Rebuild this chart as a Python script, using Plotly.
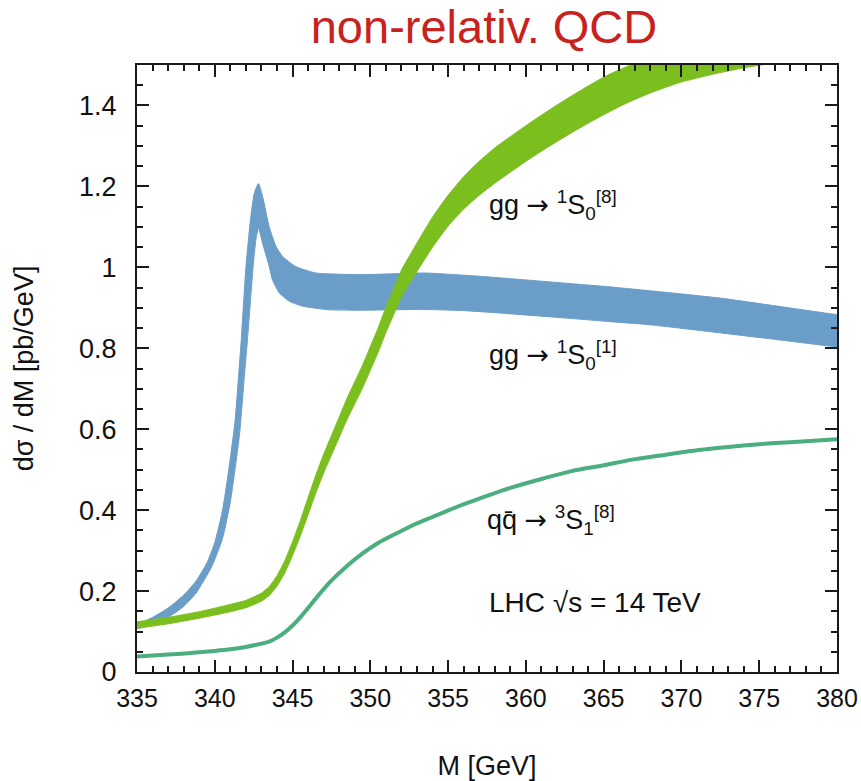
import plotly.graph_objects as go

# ---------------- data ----------------
x_ticks = [335, 340, 345, 350, 355, 360, 365, 370, 375, 380]
y_ticks = [0, 0.2, 0.4, 0.6, 0.8, 1.0, 1.2, 1.4]
y_tick_labels = ["0", "0.2", "0.4", "0.6", "0.8", "1", "1.2", "1.4"]

# gg -> 1S0[1]  (blue band)
blue_upper_M = [335.0, 335.2, 336.0, 337.0, 338.0, 338.8, 339.5, 340.0, 340.5, 340.9, 341.3,
                341.7, 342.0, 342.3, 342.55, 342.81, 343.07, 343.5, 343.93, 344.36, 345.2,
                346.5, 349.5, 353.5, 357.0, 362.8, 365.0, 368.0, 372.5, 376.0, 379.8, 380.0]
blue_upper_v = [0.120, 0.121, 0.135, 0.158, 0.190, 0.225, 0.270, 0.320, 0.400, 0.500, 0.620,
                0.820, 1.000, 1.120, 1.185, 1.207, 1.176, 1.100, 1.052, 1.027, 1.002,
                0.986, 0.982, 0.986, 0.978, 0.960, 0.953, 0.942, 0.924, 0.905, 0.884, 0.883]
blue_lower_M = [335.0, 335.2, 336.0, 337.0, 338.0, 338.8, 339.8, 340.5, 341.0, 341.3, 341.6,
                341.9, 342.1, 342.3, 342.46, 342.65, 342.81, 343.07, 343.5, 343.7, 344.14,
                344.8, 345.65, 347.4, 349.5, 353.2, 356.0, 358.0, 362.8, 365.0, 368.0,
                372.5, 376.0, 379.8, 380.0]
blue_lower_v = [0.108, 0.109, 0.118, 0.135, 0.162, 0.195, 0.260, 0.330, 0.420, 0.500, 0.590,
                0.730, 0.820, 0.920, 1.000, 1.070, 1.097, 1.060, 1.002, 0.970, 0.937,
                0.916, 0.904, 0.895, 0.894, 0.896, 0.893, 0.888, 0.874, 0.867, 0.858,
                0.838, 0.822, 0.804, 0.803]

# gg -> 1S0[8]  (green band)
green_M = [335, 335.2, 337, 339, 341, 342, 343, 343.5, 344, 344.5, 345, 345.5, 346, 346.5,
           347, 347.5, 348, 348.5, 349, 349.5, 350, 350.5, 351, 351.5, 352, 353, 354, 355,
           356, 357, 358, 359, 360, 361, 362, 363, 364, 365, 366, 367, 368, 369, 370, 372,
           374, 376, 378, 379.8, 380]
green_upper = [0.124, 0.125, 0.135, 0.149, 0.167, 0.177, 0.195, 0.211, 0.238, 0.275, 0.322,
               0.374, 0.431, 0.487, 0.538, 0.584, 0.630, 0.676, 0.717, 0.758, 0.804, 0.850,
               0.901, 0.947, 0.993, 1.060, 1.124, 1.178, 1.224, 1.262, 1.295, 1.323, 1.350,
               1.376, 1.401, 1.425, 1.448, 1.470, 1.488, 1.504, 1.519, 1.533, 1.548, 1.573,
               1.596, 1.616, 1.633, 1.647, 1.648]
green_lower = [0.108, 0.109, 0.119, 0.133, 0.149, 0.159, 0.175, 0.189, 0.212, 0.245, 0.288,
               0.336, 0.389, 0.443, 0.492, 0.536, 0.580, 0.624, 0.663, 0.702, 0.746, 0.790,
               0.839, 0.883, 0.927, 0.990, 1.050, 1.102, 1.144, 1.178, 1.208, 1.235, 1.262,
               1.287, 1.311, 1.334, 1.356, 1.377, 1.397, 1.415, 1.431, 1.445, 1.458, 1.477,
               1.493, 1.505, 1.515, 1.523, 1.524]

# q qbar -> 3S1[8]  (teal line)
teal_M = [335, 337, 338.8, 340, 341, 342, 343, 343.5, 344, 344.5, 345, 345.5, 346, 346.5,
          347.4, 348.5, 349.5, 350.5, 351.7, 352.7, 353.8, 355.7, 357.5, 359, 361, 363,
          365, 367, 369, 371, 373, 375, 377, 380]
teal_v = [0.038, 0.043, 0.048, 0.052, 0.056, 0.062, 0.070, 0.075, 0.085, 0.098, 0.115,
          0.135, 0.158, 0.182, 0.222, 0.262, 0.293, 0.319, 0.343, 0.362, 0.380, 0.410,
          0.435, 0.455, 0.477, 0.497, 0.511, 0.526, 0.537, 0.548, 0.556, 0.563, 0.568,
          0.575]

BLUE = "#6a9ec8"
GREEN = "#7bbf1e"
TEAL = "#4aae7e"
FONT = "Liberation Sans, Arial, sans-serif"
INK = "#111111"

fig = go.Figure()

fig.add_trace(go.Scatter(
    x=blue_upper_M + blue_lower_M[::-1],
    y=blue_upper_v + blue_lower_v[::-1],
    fill="toself", fillcolor=BLUE, mode="lines",
    line=dict(color=BLUE, width=1, shape="spline", smoothing=0.5),
    hoverinfo="skip", showlegend=False))

fig.add_trace(go.Scatter(
    x=green_M + green_M[::-1],
    y=green_upper + green_lower[::-1],
    fill="toself", fillcolor=GREEN, mode="lines",
    line=dict(color=GREEN, width=1, shape="spline", smoothing=0.5),
    hoverinfo="skip", showlegend=False))

fig.add_trace(go.Scatter(
    x=teal_M, y=teal_v, mode="lines",
    line=dict(color=TEAL, width=4, shape="spline", smoothing=0.6),
    hoverinfo="skip", showlegend=False))

ARROW = '<span style="font-family:DejaVu Sans">→</span>'
annots = [
    (357.5, 1.155, "gg " + ARROW + " <sup>1</sup>S<sub>0</sub><sup>[8]</sup>", 27),
    (357.5, 0.784, "gg " + ARROW + " <sup>1</sup>S<sub>0</sub><sup>[1]</sup>", 27),
    (357.4, 0.376, "qq\u0304 " + ARROW + " <sup>3</sup>S<sub>1</sub><sup>[8]</sup>", 27),
    (357.5, 0.171, "LHC √s = 14 TeV", 28),
]
for ax_, ay_, txt, fs in annots:
    fig.add_annotation(x=ax_, y=ay_, xref="x", yref="y", text=txt, showarrow=False,
                       xanchor="left", yanchor="middle",
                       font=dict(family=FONT, size=fs, color=INK))

axis_common = dict(
    showline=True, linecolor="#1a1a1a", linewidth=2, mirror="ticks",
    ticks="inside", ticklen=12, tickwidth=2, tickcolor="#1a1a1a",
    showgrid=False, zeroline=False, automargin=False,
)

fig.update_xaxes(
    range=[335, 380], tickmode="array", tickvals=x_ticks,
    ticktext=[str(v) for v in x_ticks],
    tickfont=dict(family=FONT, size=25, color=INK),
    ticklabelstandoff=3,
    minor=dict(dtick=1, ticks="inside", ticklen=6, tickwidth=1.5, tickcolor="#1a1a1a"),
    title=dict(text="M [GeV]", font=dict(family=FONT, size=27, color=INK), standoff=46),
    **axis_common)
fig.update_yaxes(
    range=[0, 1.5], tickmode="array", tickvals=y_ticks, ticktext=y_tick_labels,
    tickfont=dict(family=FONT, size=27, color=INK),
    ticklabelstandoff=13,
    minor=dict(dtick=0.05, tick0=0, ticks="inside", ticklen=6, tickwidth=1.5, tickcolor="#1a1a1a"),
    title=dict(text="dσ / dM [pb/GeV]", font=dict(family=FONT, size=27, color=INK), standoff=38),
    **axis_common)

fig.update_layout(
    width=861, height=781,
    margin=dict(l=137, r=24, t=65, b=109),
    paper_bgcolor="white", plot_bgcolor="white",
    title=dict(text="non-relativ. QCD", x=484 / 861, xanchor="center",
               y=1 - 27 / 781, yanchor="middle",
               font=dict(family=FONT, size=47, color="#c8221f")),
)

fig.write_html(
    "out.html",
    config={"displayModeBar": False},
    post_script="document.body.style.margin='0';document.body.style.padding='0';"
                "document.body.style.overflow='hidden';",
)
